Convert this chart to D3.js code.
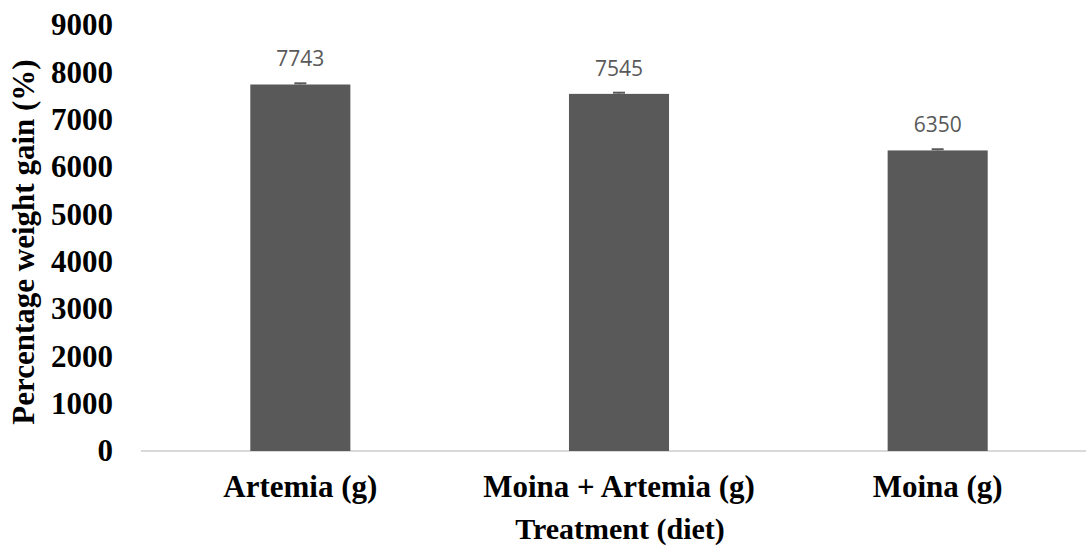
<!DOCTYPE html>
<html><head><meta charset="utf-8">
<script src="https://cdn.jsdelivr.net/npm/d3@7"></script>
<style>body{margin:0;background:#fff}</style>
</head><body>
<svg id="c" width="1086" height="548"></svg>
<script>
const categories = ["Artemia (g)", "Moina + Artemia (g)", "Moina (g)"];
const values = [7743, 7545, 6350];
const errors = [25, 25, 25];
const yTicks = [0,1000,2000,3000,4000,5000,6000,7000,8000,9000];

const serif = "'Liberation Serif','Times New Roman',serif";
const svg = d3.select("#c");
const x = d3.scaleBand().domain(categories).range([141, 1097]).paddingInner(0.686).paddingOuter(0.343);
const y = d3.scaleLinear().domain([0, 9000]).range([451, 25]);

// axis line
svg.append("line").attr("x1",141).attr("x2",1086).attr("y1",y(0)).attr("y2",y(0))
  .attr("stroke","#d9d9d9").attr("stroke-width",2);

// y tick labels
const yAxis = d3.axisLeft(y).tickValues(yTicks).tickFormat(d3.format("d")).tickSize(0).tickPadding(0);
const ga = svg.append("g").attr("transform","translate(113,0)").call(yAxis);
ga.select(".domain").remove();
ga.selectAll("text").attr("font-family",serif)
  .attr("font-weight","bold").attr("font-size",31).attr("fill","#000");

// bars
svg.selectAll("rect.bar").data(values).enter().append("rect")
  .attr("x",(d,i)=>x(categories[i])).attr("width",x.bandwidth())
  .attr("y",d=>y(d)).attr("height",d=>y(0)-y(d)).attr("fill","#595959");

// error bars
values.forEach((v,i)=>{
  const cx = x(categories[i]) + x.bandwidth()/2;
  svg.append("line").attr("x1",cx).attr("x2",cx).attr("y1",y(v+errors[i])).attr("y2",y(v))
    .attr("stroke","#595959").attr("stroke-width",1.5);
  svg.append("line").attr("x1",cx-6).attr("x2",cx+6).attr("y1",y(v+errors[i])).attr("y2",y(v+errors[i]))
    .attr("stroke","#595959").attr("stroke-width",2);
});

// value labels
svg.selectAll("text.val").data(values).enter().append("text")
  .attr("x",(d,i)=>x(categories[i])+x.bandwidth()/2).attr("y",d=>y(d)-18)
  .attr("text-anchor","middle").attr("font-family","'Open Sans','Liberation Sans',sans-serif")
  .attr("font-size",21).attr("fill","#595959").text(d=>d);

// category labels
const gx = svg.append("g").attr("transform",`translate(0,${y(0)})`)
  .call(d3.axisBottom(x).tickSize(0).tickPadding(24));
gx.select(".domain").remove();
gx.selectAll("text").attr("font-family",serif)
  .attr("font-weight","bold").attr("font-size",31).attr("fill","#000");

// axis titles
svg.append("text").attr("x",620).attr("y",539).attr("text-anchor","middle")
  .attr("font-family",serif).attr("font-weight","bold")
  .attr("font-size",30).text("Treatment (diet)");
svg.append("text").attr("transform","translate(34,242) rotate(-90)").attr("text-anchor","middle")
  .attr("font-family",serif).attr("font-weight","bold")
  .attr("font-size",31).text("Percentage weight gain (%)");
</script>
</body></html>
